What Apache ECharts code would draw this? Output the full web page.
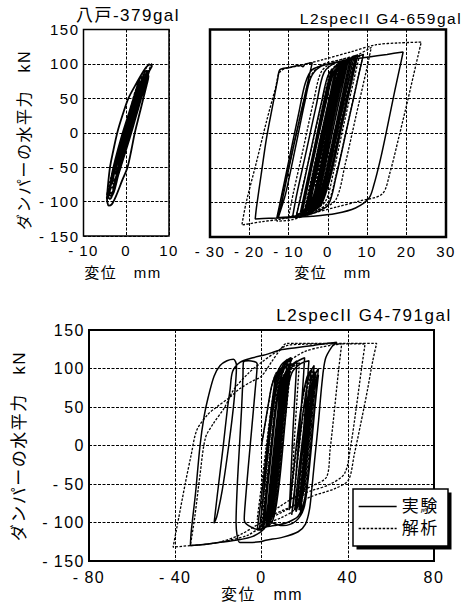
<!DOCTYPE html>
<html>
<head>
<meta charset="utf-8">
<script src="https://cdn.jsdelivr.net/npm/echarts@6/dist/echarts.min.js"></script>
<style>
  html, body { margin: 0; padding: 0; background: #fff; }
  #chart { width: 465px; height: 604px; }
  #chart svg text { letter-spacing: 1.5px; }
</style>
</head>
<body>
<div id="chart"></div>
<script>
// Panel titles and axis names
const titleHachinohe = '八戸-379gal';
const title659 = 'L2specII G4-659gal';
const title791 = 'L2specII G4-791gal';
const yName = 'ダンパーの水平力　kN';
const xName = '変位　mm';
const seriesNames = ['実験', '解析'];

// Hachinohe 379gal: displacement (mm), damper force (kN)
const hachinoheExp = [
  [0,0],[1.0,22],[2.0,44],[2.5,55],[2.2,56],[1.0,32],[-0.6,-2],[-1.8,-32],[-2.4,-50],[-2.1,-53],
  [-0.9,-28],[0.6,4],[2.2,40],[3.4,66],[3.8,75],[3.3,73],[1.6,44],[-0.4,4],[-2.0,-34],[-3.0,-62],
  [-3.3,-74],[-2.8,-74],[-1.2,-44],[0.6,-4],[2.4,36],[4.1,68],[5.4,90],[6.0,97],[5.5,99],[4.4,93],
  [2.4,72],[0.5,50],[-0.9,25],[-2.1,0],[-3.1,-28],[-3.8,-50],[-4.3,-78],[-4.5,-96],[-4.1,-106],[-3.4,-104],
  [-2.4,-92],[-1.0,-70],[0.3,-50],[1.2,-25],[2.0,0],[3.0,25],[4.0,50],[4.8,70],[5.2,82],[4.9,86],
  [3.6,70],[1.8,44],[0,14],[-1.6,-18],[-2.8,-48],[-3.6,-72],[-3.9,-86],[-3.4,-88],[-2.2,-66],[-0.8,-38],
  [0.8,-4],[2.4,30],[3.6,56],[4.4,72],[4.6,78],[4.1,76],[2.6,52],[0.8,22],[-0.8,-10],[-2.2,-40],
  [-3.0,-62],[-3.3,-70],[-2.8,-70],[-1.5,-46],[0,-16],[1.5,16],[2.8,44],[3.4,58],[3.6,64],[3.1,62],
  [1.6,36],[0,4],[-1.5,-28],[-2.6,-52],[-2.9,-60],[-2.4,-59],[-1.0,-32],[0.5,-2],[1.9,28],[2.8,48],
  [3.0,53],[2.5,51],[1.0,24],[-0.4,-4],[-1.6,-30],[-2.0,-40],[-1.5,-38],[-0.2,-12],[1.2,16],[1.8,30],
  [1.4,30],[0.2,8],[-0.4,-4],[0.8,20],[2.2,46],[3.2,66],[3.7,78],[3.4,80],[2.2,60],[0.4,24],
  [-1.2,-8],[-2.6,-40],[-3.4,-62],[-3.7,-78],[-3.3,-80],[-2,-56],[-0.4,-22],[1.2,12],[2.6,42],[3.8,66],
  [4.6,84],[5,90],[4.6,90],[3.2,66],[1.4,32],[-0.4,0],[-2,-32],[-3.2,-60],[-4,-84],[-4.2,-94],
  [-3.7,-96],[-2.4,-72],[-0.8,-40],[0.8,-8],[2.2,22],[3.4,48],[4.2,66],[4.5,72],[4,72],[2.6,46],
  [0.8,14],[-0.8,-18],[-2.2,-46],[-3,-66],[-2.6,-68],[-1.2,-42],[0.4,-10],[1.8,20],[3,44],[3.3,52],
  [2.8,50],[1.2,20],[-0.4,-12],[-1.6,-36],[-1.9,-46],[-1.4,-44],[0,-14],[1.3,12],[2,26],[1.5,26],[0.3,2],
  [-1.2,-22],[-2.8,-54],[-3.6,-76],[-3.9,-90],[-3.4,-92],[-1.8,-60],[-0.2,-26],[1.6,10],[3,40],[4.2,64],
  [5,82],[5.4,90],[4.8,88],[3.2,60],[1.2,22],[-0.6,-12],[-2.2,-44]
];
const hachinoheAna = [
  [0,0],[1.2,30],[2.4,56],[2.9,64],[2.5,64],[1.0,34],[-0.6,-2],[-1.9,-34],[-2.5,-52],[-2.1,-54],
  [-0.6,-20],[1.0,16],[2.6,50],[3.8,74],[4.2,82],[3.7,82],[2.0,50],[0.2,12],[-1.6,-26],[-3.0,-60],
  [-3.6,-76],[-3.1,-78],[-1.6,-48],[0.2,-10],[2.0,30],[3.8,66],[5.2,90],[6.0,100],[5.4,100],[3.8,80],
  [2.0,50],[0,12],[-1.8,-24],[-3.2,-56],[-4.2,-80],[-4.6,-95],[-4.0,-96],[-2.6,-74],[-0.8,-38],[1.0,0],
  [2.6,34],[3.8,60],[4.6,76],[4.9,84],[4.3,84],[2.6,56],[0.8,20],[-1.0,-16],[-2.6,-48],[-3.6,-72],
  [-3.9,-82],[-3.3,-82],[-1.8,-54],[0,-18],[1.8,18],[3.2,46],[3.8,60],[3.3,60],[1.6,30],[-0.2,-6],
  [-1.8,-38],[-2.6,-56],[-2.1,-56],[-0.6,-26],[1.0,8],[2.2,32],[2.6,40],[2.1,40],[0.6,10],[-0.8,-16],
  [-1.4,-28],[-0.9,-26],[0.2,-4],[1.6,28],[3,58],[4,76],[4.4,86],[3.9,86],[2.4,56],[0.6,20],
  [-1.2,-16],[-2.8,-52],[-3.8,-76],[-4.2,-88],[-3.6,-88],[-2.2,-60],[-0.4,-24],[1.4,14],[2.8,44],[3.4,56],
  [2.9,56],[1.2,22],[-0.6,-14],[-2,-44],[-2.4,-54],[-1.8,-52],[-0.4,-20],[0.6,0]
];

// L2specII G4 659gal
const g659Exp = [
  [0,0],[2,52],[3.4,88],[4.6,102],[5.2,106],
  [4,76],[1.6,14],[-1,-56],[-2.6,-94],[-3.6,-104],
  [-2.4,-72],[0,-10],[2.6,58],[4.4,96],[6.2,110],[7.6,113],
  [6.4,84],[3.6,12],[0.6,-64],[-1.6,-102],[-3.6,-112],[-5.6,-116],
  [-4.6,-88],[-2,-20],[0.8,52],[2.6,94],[4.8,106],[6.6,110],
  [5,70],[2.2,-4],[-0.6,-76],[-2.6,-108],[-6,-118],[-9,-121],
  [-8,-90],[-5.6,-28],[-3,40],[-1,88],[2,102],[6,108],[9,114],
  [7.8,84],[5,12],[2,-64],[0,-104],[-4,-116],[-8,-120],[-13,-122],
  [-11.8,-90],[-9.6,-30],[-7.4,30],[-5.8,72],[-4,92],[0,100],[5,106],[10,110],[15,114],[19.1,117.5],
  [18.6,104],[17,62],[15.2,12],[13.4,-36],[11.6,-76],[10.4,-94],[7,-108],[2,-116],[-4,-120],[-10,-122],[-15,-123],[-18.5,-124],
  [-18.2,-108],[-17,-60],[-15.6,-6],[-14,42],[-12.8,78],[-12.2,92],[-10,95],[-7,98],[-6.4,96],[-5.8,100],[-4,102],
  [-5.6,62],[-7.8,6],[-10,-52],[-11.6,-96],[-12.6,-121],
  [-10.8,-88],[-8.4,-24],[-6,42],[-4.4,80],[-2,96],[2,102],[7,108],
  [5.6,72],[3,4],[0.4,-62],[-1.6,-100],[-4,-112],[-7,-118],
  [-5.8,-84],[-3.4,-18],[-1,48],[0.8,88],[3,102],[5,106],
  [3.6,68],[1,-2],[-1.6,-70],[-3.4,-104],[-6,-114],
  [-4.6,-80],[-2.2,-14],[0.4,52],[2,90],[4,104],
  [2.6,68],[0,-4],[-2.6,-72],[-4.2,-104],[-8,-118],
  [-6.6,-84],[-4.2,-20],[-1.6,46],[0.2,86],[3,100],[6,106],
  [4.6,70],[2,0],[-0.6,-68],[-2.6,-104],[-5,-114],
  [-3.8,-82],[-1.4,-18],[1.2,48],[2.8,86],[4,96],
  [2.8,64],[0.2,-6],[-2.4,-72],[-4,-100],[-5,-108],
  [-3.6,-70],[-1.4,-12],[0.8,44],[2,74],[2.6,84],
  [1.4,52],[-1,-10],[-2.8,-56],[-3.4,-70],
  [-2.2,-38],[-0.4,8],[1,44],[1.6,56],
  [0.4,24],[-1.4,-20],[-2,-34],[-0.8,-2],
  [1.2,50],[2.6,86],[4,100],[6,106],[4.6,70],[2,2],[-0.8,-70],[-2.8,-104],[-5,-114],[-7,-118],
  [-5.8,-86],[-3.4,-22],[-0.8,44],[1,86],[3.4,100],[5.6,106],[4.2,70],[1.6,0],[-1.2,-72],[-3,-104],
  [-5.6,-116],[-4.4,-84],[-2,-18],[0.6,50],[2.4,90],[4.6,104],[3.2,68],[0.6,-2],[-2,-72],[-3.6,-102],
  [-6.6,-116],[-5.4,-84],[-3,-20],[-0.4,46],[1.4,86],[3.6,100],[2.2,64],[-0.4,-6],[-3,-76],[-4.6,-104],
  [-7,-114],[-5.8,-82],[-3.4,-18],[-1,46],[0.8,84],[2.4,94],[1,56],[-1.6,-14],[-4,-80],[-5.2,-100]
];
const g659Ana = [
  [0,0],[2.4,56],[4,92],[5.4,104],[6.4,108],
  [5,72],[2.4,4],[-0.4,-66],[-2.2,-100],[-4,-108],
  [-2.8,-76],[-0.2,-8],[2.4,60],[4.2,98],[7,110],[9,114],
  [7.6,80],[4.8,8],[2,-62],[0,-100],[-3,-112],[-6,-116],
  [-4.8,-84],[-2.2,-16],[0.6,56],[2.6,96],[6,108],[11,124],
  [9.8,92],[7,22],[4.4,-44],[2,-96],[-2,-110],[-7,-118],[-10,-120],
  [-8.8,-86],[-6.2,-20],[-3.6,48],[-1.6,90],[2,104],[7,112],
  [5.6,78],[3,10],[0.4,-58],[-1.6,-100],[-6,-116],[-12,-124],[-17,-128],[-21.9,-132.7],
  [-20.8,-100],[-18.2,-42],[-15.6,18],[-13.4,64],[-12,90],[-7,98],[-1.2,106.6],[6,118],[12.3,128],[18,130.6],[23.7,131.8],
  [22.4,100],[20.2,46],[18,-6],[15.8,-56],[13.8,-87.7],[8,-98],[2.2,-106.6],[-4,-116],[-9.6,-125.6],[-13,-127],
  [-11.8,-94],[-9.2,-30],[-6.6,36],[-4.6,80],[-2,98],[3,106],[8,112],
  [6.6,78],[4,12],[1.4,-56],[-0.6,-98],[-4,-112],[-8,-118],
  [-6.8,-86],[-4.2,-22],[-1.6,44],[0.4,88],[3,102],[6,108],
  [4.6,74],[2,6],[-0.6,-62],[-2.6,-100],[-6,-112],
  [-4.8,-80],[-2.2,-14],[0.4,52],[2.2,92],[4.4,102],
  [3,66],[0.4,-2],[-2.2,-70],[-3.8,-100],[-5,-106],
  [-3.6,-70],[-1.2,-6],[1.2,56],[2.6,86],[3.2,92],
  [1.8,56],[-0.6,-10],[-2.6,-62],[-3.4,-78],
  [-2,-40],[0.2,14],[1.6,46],[2,52],
  [0.6,16],[-1,-24],[-1.6,-36],[-0.6,-6],
  [1.6,54],[3.2,90],[5,104],[7,110],[5.6,74],[3,6],[0.2,-64],[-1.8,-100],[-4.4,-112],
  [-3.2,-80],[-0.6,-14],[2,54],[3.8,92],[5.6,104],[4.2,68],[1.6,0],[-1.2,-68],[-3,-100],[-5.6,-112],
  [-4.4,-80],[-1.8,-14],[0.8,54],[2.6,90],[4,98],[2.6,62],[0,-6],[-2.6,-72],[-4,-96]
];

// L2specII G4 791gal
const g791Exp = [
  [0,0],[2.6,44],[4.6,76],[6.4,92],[5.2,58],[3,-2],[1,-60],[0,-88],[1.4,-48],[3.6,12],[5.8,66],[7.8,94],[9.6,102],
  [8.2,62],[5.8,-2],[3.4,-64],[1.8,-96],[-2,-110],
  [-0.2,-70],[2.4,-6],[4.8,54],[6.8,90],[9,104],[12,112],
  [10.6,70],[8.4,8],[6,-56],[4.2,-90],[2,-106],[-4,-118],[-12,-123],[-20,-126],[-27,-128.5],[-33,-130],
  [-32.6,-112],[-30.6,-62],[-28.5,0],[-26.6,38],[-24.7,63],[-22,90],[-19.2,104],[-16,110],[-13,112],
  [-11.6,104],[-12.8,56],[-15.2,0],[-18.2,-58],[-20.8,-93],[-22,-101],
  [-20.4,-62],[-17.8,-2],[-15.8,48],[-14.6,72],[-13.4,96],[-10,108],[-4,114],[2,118],[8.6,124],[16,127],[24,130],[30,132.4],[34.9,134],
  [32.6,128],[29.6,112],[28,80],[26.4,30],[24.6,-20],[23.2,-60],[22.2,-84],[20.4,-102],[17,-112],[10,-119],[2,-123],[-0.7,-125],[-6,-126],[-10,-126],
  [-11.8,-100],[-11.2,-50],[-10.2,0],[-9.2,50],[-8.6,90],[-8.4,108],[-6,110],[-2,106],
  [-3,70],[-4.6,20],[-6.2,-30],[-7.4,-70],[-8,-96],[-6,-104],[0,-110],[1,-108],
  [2.6,-62],[4.8,-4],[7,54],[8.8,88],[10.8,104],[13.4,112],
  [12.4,80],[10.6,20],[8.6,-40],[6.6,-82],[4.8,-100],[2,-106],
  [3.4,-64],[5.6,-6],[7.8,50],[9.8,86],[12,100],
  [10.6,62],[8.6,4],[6.4,-56],[4.8,-88],[3.4,-98],
  [4.8,-58],[7,0],[9,54],[10.8,86],[12.6,96],[16,108],[20,114],
  [19,70],[17.6,20],[16.2,-30],[15,-70],[14,-90],
  [15.6,-50],[17.4,0],[19.6,50],[22,90],[24.4,104],
  [23.2,60],[21.6,10],[20,-40],[18.6,-72],[17.4,-84],
  [19,-40],[20.8,10],[22.6,56],[24.6,90],[26.4,100],
  [25,60],[23.4,10],[21.6,-40],[19.8,-74],[18,-90],
  [19.4,-52],[21.2,-2],[23,48],[25,82],[26.4,92],
  [24.8,50],[23.2,0],[21.4,-50],[19.6,-82],[16,-98],[10,-104],[3,-98],[1,-93],
  [2.8,-50],[5,4],[7.2,56],[9.2,84],[10.6,92],
  [9,48],[7,-6],[5,-60],[3.6,-84],
  [5.2,-40],[7.2,12],[9,56],[10,72],
  [8.6,32],[6.8,-20],[5.6,-50],[6.8,-10],[8,20],
  [9.4,56],[11,84],[12.4,96],[11,60],[9,4],[6.8,-54],[5,-86],[3.2,-100],
  [4.6,-62],[6.6,-6],[8.6,48],[10.4,80],[11.8,94],[10.4,56],[8.4,0],[6.2,-58],[4.4,-90],[2.6,-102],
  [4,-64],[6,-10],[8,44],[9.8,78],[11.2,90],[13,102],[16.4,110],
  [15.6,70],[14.6,20],[13.8,-30],[13.2,-66],[12.8,-84],
  [14.4,-44],[16.4,6],[18.6,54],[21,88],[23,98],
  [21.8,56],[20.2,6],[18.6,-44],[17.2,-74],[16,-86],
  [17.6,-44],[19.6,6],[21.6,52],[23.6,84],[25,94],
  [23.6,54],[21.8,4],[20,-46],[18.4,-76],[17.8,-80],
  [19.4,-38],[21.4,12],[23.4,58],[25.2,82],[26,86],
  [24.4,44],[22.6,-6],[20.8,-56],[19.6,-74],
  [17,-92],[12,-100],[6,-104],[1,-106],[-1,-110],
  [0.4,-76],[2.6,-20],[5,38],[7.2,78],[9.2,100],[11.6,110],[13.6,114],
  [12.4,76],[10.6,20],[8.4,-40],[6,-84],[3,-104],[0.4,-108],
  [1.8,-70],[4,-14],[6.2,42],[8.4,82],[10.6,100],[12.6,106],
  [11.2,66],[9.2,10],[7,-48],[4.8,-88],[2.4,-102],
  [3.8,-60],[6,-4],[8.2,52],[10.2,86],[11.8,96],
  [10.2,52],[8.2,-6],[6,-64],[4.4,-88],
  [6,-48],[8.6,10],[11.4,60],[14,94],[18,106],[22,110],
  [20.8,66],[19.4,16],[18,-36],[16.6,-70],[15.4,-84],
  [17,-40],[19,8],[21,54],[23,86],[24.8,96],
  [23.4,52],[21.6,2],[19.8,-48],[18.2,-78]
];
const g791Ana = [
  [0,0],[2.8,46],[5,80],[7,96],[5.6,58],[3.4,0],[1.2,-58],[0.2,-84],[1.8,-44],[4,14],[6.4,68],[8.6,94],[10.4,102],
  [8.8,60],[6.4,-2],[4,-62],[2.4,-92],[0,-104],
  [1.6,-64],[4.2,-2],[6.6,58],[8.8,94],[11,106],[14,114],
  [12.4,70],[10,10],[7.6,-50],[5.4,-86],[2,-100],[-6,-116],[-14.6,-123],[-25,-128],[-33,-130],[-41,-132],
  [-38.4,-94],[-35.4,-50],[-32.6,-12],[-30,20],[-25,40],[-20.8,50],[-15,62],[-10,74],[-4,84],[0,90],[5,110],[8.6,124],[11.7,132.6],[24,132.6],[38,132.6],[53.4,132.6],
  [51.6,110],[49,70],[46,28],[43,-12],[40.3,-45],[34,-56],[22.5,-67],[10,-86],[-0.7,-101],[-10,-116],[-20,-126],[-33,-130],
  [-31,-94],[-28.6,-40],[-26,10],[-22.3,28.6],[-17,50],[-13,72],[-6,94],[0,108],[6,120],[12,130],[20,131.6],[30,132],[40,132],[48,131.6],
  [46.4,100],[44,50],[41.4,0],[38.6,-36],[32,-50],[24,-58],[16,-66],[8,-80],[2,-90],[-2,-96],
  [-0.2,-56],[2,-6],[4.4,46],[6.8,84],[9.4,100],[14,112],[20,122],[28,128],[37.2,132],
  [35.6,94],[33.6,40],[31.8,-6],[30.2,-40.7],[24,-52],[18,-60],[15,-70],
  [16.4,-30],[18.4,20],[20.4,60],[22.4,86],[24.4,96],
  [23,56],[21,6],[19,-44],[17.4,-72],[16,-80],
  [17.6,-40],[19.6,10],[21.8,56],[23.8,84],[25.6,92],
  [24,52],[22,0],[20,-50],[18.4,-76],
  [19.8,-36],[21.8,14],[23.8,60],[25,76],
  [23.4,34],[21.4,-16],[19.6,-60],[16,-76],[10,-84],[5,-90],[3,-92],
  [4.6,-50],[6.8,4],[9,56],[10.8,84],[12,90],
  [10.4,48],[8.2,-8],[6,-60],[4.6,-80],
  [6.2,-36],[8.2,16],[10,58],[11,70],
  [9.6,30],[7.6,-22],[6.4,-44],
  [8,0],[9.8,50],[11.6,84],[12.8,94],[11.4,54],[9.4,0],[7.2,-56],[5.6,-84],[4,-94],
  [5.4,-56],[7.4,-2],[9.4,52],[11.2,84],[14,100],[17.6,108],
  [16.6,66],[15.4,14],[14.4,-36],[13.6,-70],[13.2,-82],
  [14.8,-40],[16.8,10],[19,58],[21.4,88],[23.6,98],
  [22.2,56],[20.6,4],[19,-46],[17.6,-74],[16.8,-80],
  [18.4,-38],[20.4,12],[22.4,58],[24.4,86],[25.4,90],
  [24,48],[22.2,-4],[20.4,-52],[19.4,-66],
  [15,-84],[9,-94],[3,-100],[0.6,-102],
  [2.2,-60],[4.4,-4],[6.6,52],[8.8,90],[11,104],[13,110],
  [11.6,70],[9.6,14],[7.4,-46],[5.2,-86],[2.8,-98],
  [4.2,-58],[6.4,-2],[8.6,54],[10.6,88],[12.2,98],
  [10.6,56],[8.6,-2],[6.4,-60],[5,-84]
];

// Axis ranges
const forceRange = { min: -150, max: 150, interval: 50 };
const dispRanges = [
  { min: -10, max: 10, interval: 10 },
  { min: -30, max: 30, interval: 10 },
  { min: -80, max: 80, interval: 40 }
];

const FONT = '"Liberation Sans", "Noto Sans CJK JP", sans-serif';
const tickFmt = v => (v < 0 ? '-\u2009' + (-v) : String(v));
const gridLine = { show: true, lineStyle: { color: '#000', width: 1, type: [3, 1.5] } };

function xAxis(i, fontSize, margin) {
  return Object.assign({
    type: 'value', gridIndex: i,
    axisLine: { show: false }, axisTick: { show: false },
    splitLine: gridLine,
    axisLabel: { color: '#000', fontFamily: FONT, fontSize: fontSize, margin: margin, formatter: tickFmt }
  }, dispRanges[i]);
}
function yAxis(i, fontSize, show) {
  return Object.assign({
    type: 'value', gridIndex: i,
    axisLine: { show: false }, axisTick: { show: false },
    splitLine: gridLine,
    axisLabel: { show: show, color: '#000', fontFamily: FONT, fontSize: fontSize, margin: 4, formatter: tickFmt }
  }, forceRange);
}
function loopSeries(name, data, i, dashed, width) {
  return {
    name: name, type: 'line', xAxisIndex: i, yAxisIndex: i, data: data,
    symbol: 'none', showSymbol: false, smooth: 0.3, clip: true,
    itemStyle: { color: '#000' },
    lineStyle: dashed ? { color: '#000', width: width - 0.2, type: [2.5, 1.5] } : { color: '#000', width: width },
    z: dashed ? 3 : 2
  };
}
function label(text, x, y, size, rot) {
  return {
    type: 'text', x: x, y: y, rotation: rot || 0, z: 20,
    style: { text: text, fill: '#000', fontSize: size, fontFamily: FONT,
             font: size + 'px ' + FONT,
             align: 'center', verticalAlign: 'middle', textAlign: 'center', textVerticalAlign: 'middle' }
  };
}

const chart = echarts.init(document.getElementById('chart'), null, { renderer: 'svg' });
chart.setOption({
  animation: false,
  backgroundColor: '#fff',
  grid: [
    { left: 83.5, top: 29.5, width: 85.5, height: 206.5, show: true, borderColor: '#000', borderWidth: 1.5 },
    { left: 210, top: 29.5, width: 236, height: 207.5, show: true, borderColor: '#000', borderWidth: 2.5 },
    { left: 89, top: 330, width: 345, height: 231, show: true, borderColor: '#000', borderWidth: 2 }
  ],
  xAxis: [xAxis(0, 15, 7), xAxis(1, 15, 7), xAxis(2, 16, 8)],
  yAxis: [yAxis(0, 15, true), yAxis(1, 15, false), yAxis(2, 16, true)],
  legend: {
    data: seriesNames, orient: 'vertical', left: 358, top: 498,
    itemWidth: 38, itemHeight: 17, itemGap: 5, padding: 0,
    selectedMode: false, z: 30,
    itemStyle: { opacity: 0, borderWidth: 0 },
    lineStyle: { width: 1.3 },
    textStyle: { color: '#000', fontFamily: FONT, fontSize: 17 }
  },
  graphic: [
    label(titleHachinohe, 128, 15, 17),
    label(title659, 381, 18, 15.5),
    label(title791, 364, 315, 17),
    label(yName, 24, 140, 16, Math.PI / 2),
    label(yName, 19, 446, 17, Math.PI / 2),
    label(xName, 123, 272, 15),
    label(xName, 333, 272, 15),
    label(xName, 262, 594, 16),
    { type: 'rect', z: 25, shape: { x: 356.5, y: 492.5, width: 95, height: 57 }, style: { fill: '#000' } },
    { type: 'rect', z: 26, shape: { x: 353, y: 489, width: 95, height: 57 }, style: { fill: '#fff', stroke: '#000', lineWidth: 1.5 } }
  ],
  series: [
    loopSeries(seriesNames[0], hachinoheExp, 0, false, 1.8),
    loopSeries(seriesNames[1], hachinoheAna, 0, true, 1.5),
    loopSeries(seriesNames[0], g659Exp, 1, false, 1.5),
    loopSeries(seriesNames[1], g659Ana, 1, true, 1.5),
    loopSeries(seriesNames[0], g791Exp, 2, false, 1.5),
    loopSeries(seriesNames[1], g791Ana, 2, true, 1.5)
  ]
});
</script>
</body>
</html>
